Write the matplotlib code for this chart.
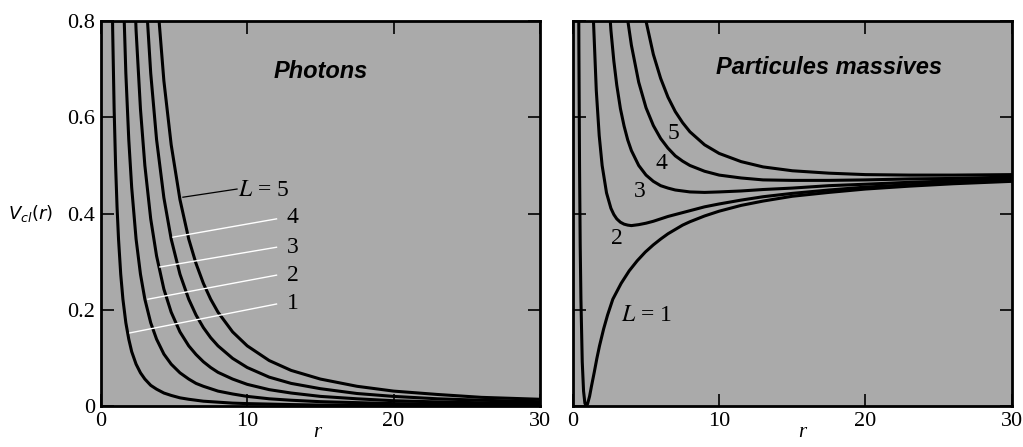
import matplotlib
matplotlib.use("Agg")
import matplotlib.pyplot as plt

plt.rcParams['mathtext.fontset'] = 'stix'

# ---- photons: V(r), one list per L ----
r_ph = [0.7, 0.8, 0.9, 1.0, 1.1, 1.2, 1.35, 1.5, 1.7, 1.9, 2.1, 2.4, 2.7, 3.0, 3.4, 3.8,
        4.3, 4.8, 5.4, 6.0, 6.5, 7.0, 7.5, 8.0, 9.0, 10, 11.5, 13, 15, 17.5, 20, 23, 26, 30]
ph_L1 = [1.02, 0.781, 0.617, 0.5, 0.413, 0.347, 0.274, 0.222, 0.173, 0.139, 0.113, 0.087,
         0.069, 0.056, 0.043, 0.035, 0.027, 0.022, 0.017, 0.014, 0.012, 0.010, 0.009, 0.008,
         0.006, 0.005, 0.004, 0.003, 0.002, 0.002, 0.001, 0.001, 0.001, 0.001]
ph_L2 = [4.08, 3.125, 2.469, 2.0, 1.653, 1.389, 1.097, 0.889, 0.692, 0.554, 0.454, 0.347,
         0.274, 0.222, 0.173, 0.139, 0.108, 0.087, 0.069, 0.056, 0.047, 0.041, 0.036, 0.031,
         0.025, 0.020, 0.015, 0.012, 0.009, 0.007, 0.005, 0.004, 0.003, 0.002]
ph_L3 = [9.18, 7.03, 5.556, 4.5, 3.719, 3.125, 2.469, 2.0, 1.557, 1.247, 1.020, 0.781,
         0.617, 0.5, 0.389, 0.312, 0.243, 0.195, 0.154, 0.125, 0.107, 0.092, 0.080, 0.070,
         0.056, 0.045, 0.034, 0.027, 0.020, 0.015, 0.011, 0.0085, 0.0067, 0.005]
ph_L4 = [16.3, 12.5, 9.88, 8.0, 6.61, 5.56, 4.39, 3.56, 2.77, 2.216, 1.814, 1.389,
         1.097, 0.889, 0.692, 0.554, 0.433, 0.347, 0.274, 0.222, 0.189, 0.163, 0.142, 0.125,
         0.099, 0.080, 0.060, 0.047, 0.036, 0.026, 0.020, 0.015, 0.012, 0.009]
ph_L5 = [25.5, 19.5, 15.4, 12.5, 10.3, 8.68, 6.86, 5.56, 4.33, 3.46, 2.83, 2.17,
         1.715, 1.389, 1.081, 0.866, 0.676, 0.543, 0.429, 0.347, 0.296, 0.255, 0.222, 0.195,
         0.154, 0.125, 0.0945, 0.074, 0.056, 0.041, 0.031, 0.024, 0.018, 0.014]

# ---- massive particles: V(r) ----
r_m1 = [0.23, 0.27, 0.32, 0.36, 0.41, 0.455, 0.5, 0.55, 0.64, 0.73, 0.82, 0.91, 1.0, 1.14,
        1.27, 1.46, 1.64, 1.82, 2.1, 2.37, 2.73, 3.3, 3.85, 4.4, 4.95, 5.5, 6, 6.5, 7, 7.5,
        8, 9, 10, 11.5, 13, 15, 17.5, 20, 23, 26, 30]
m_L1 = [4.5, 2.722, 1.725, 1.125, 0.747, 0.5, 0.335, 0.222, 0.092, 0.031, 0.006, 0.0,
        0.004, 0.02, 0.041, 0.070, 0.099, 0.125, 0.160, 0.189, 0.222, 0.255, 0.281, 0.302,
        0.32, 0.335, 0.347, 0.358, 0.367, 0.376, 0.383, 0.395, 0.405, 0.417, 0.426, 0.436,
        0.444, 0.451, 0.457, 0.462, 0.467]

r_m = [0.25, 0.3, 0.35, 0.4, 0.45, 0.5, 0.55, 0.6, 0.7, 0.8, 0.9, 1.0, 1.1, 1.25, 1.4, 1.6,
       1.8, 2.0, 2.3, 2.6, 2.8, 3.0, 3.25, 3.5, 3.75, 4.0, 4.5, 5, 5.5, 6, 6.5, 7, 7.5, 8, 9,
       10, 11.5, 13, 15, 17.5, 20, 23, 26, 30]
m_L2 = [28.5, 19.39, 13.97, 10.5, 8.15, 6.5, 5.29, 4.39, 3.15, 2.375, 1.858, 1.5, 1.244,
        0.98, 0.806, 0.656, 0.562, 0.5, 0.443, 0.411, 0.398, 0.389, 0.382, 0.378, 0.376,
        0.375, 0.377, 0.38, 0.384, 0.389, 0.394, 0.398, 0.402, 0.406, 0.414, 0.42, 0.428,
        0.435, 0.442, 0.449, 0.455, 0.460, 0.465, 0.469]
m_L3 = [68.5, 47.2, 34.4, 26.1, 20.5, 16.5, 13.56, 11.33, 8.26, 6.28, 4.94, 4.0, 3.31,
        2.58, 2.08, 1.633, 1.333, 1.125, 0.916, 0.781, 0.717, 0.667, 0.618, 0.582, 0.553,
        0.531, 0.5, 0.48, 0.467, 0.458, 0.453, 0.449, 0.447, 0.445, 0.444, 0.445, 0.447,
        0.450, 0.453, 0.458, 0.461, 0.465, 0.468, 0.472]
m_L4 = [124.5, 86.1, 63.0, 48, 37.8, 30.5, 25.1, 21.1, 15.4, 11.75, 9.27, 7.5, 6.2, 4.82,
        3.87, 3.0, 2.413, 2.0, 1.577, 1.299, 1.163, 1.056, 0.950, 0.867, 0.802, 0.75, 0.673,
        0.62, 0.583, 0.556, 0.536, 0.520, 0.509, 0.5, 0.488, 0.48, 0.474, 0.470, 0.469,
        0.469, 0.47, 0.472, 0.473, 0.476]
m_L5 = [196.5, 136.1, 99.7, 76.1, 60.0, 48.5, 40.0, 33.5, 24.6, 18.8, 14.8, 12.0, 9.92,
        7.7, 6.16, 4.76, 3.80, 3.125, 2.428, 1.964, 1.737, 1.556, 1.376, 1.235, 1.122, 1.031,
        0.895, 0.8, 0.731, 0.681, 0.642, 0.612, 0.589, 0.570, 0.543, 0.525, 0.508, 0.497,
        0.489, 0.484, 0.481, 0.480, 0.480, 0.481]

xticks = [0, 10, 20, 30]
xtick_labels = ['0', '10', '20', '30']
yticks = [0, 0.2, 0.4, 0.6, 0.8]
ytick_labels = ['0', '0.2', '0.4', '0.6', '0.8']

bg = '#aaaaaa'
serif = 'Liberation Serif'

fig = plt.figure(figsize=(10.23, 4.47), dpi=100)
ax1 = fig.add_axes([0.0987, 0.0917, 0.429, 0.861])
ax2 = fig.add_axes([0.560, 0.0917, 0.429, 0.861])

for ax in (ax1, ax2):
    ax.set_facecolor(bg)
    ax.set_xlim(0, 30)
    ax.set_ylim(0, 0.8)
    ax.set_xticks(xticks)
    ax.set_yticks(yticks)
    ax.tick_params(direction='in', length=9, width=1.2, top=True, right=True,
                   labelsize=16, pad=4)
    for s in ax.spines.values():
        s.set_linewidth(2)

ax1.set_xticklabels(xtick_labels, fontfamily=serif)
ax1.set_yticklabels(ytick_labels, fontfamily=serif)
ax2.set_xticklabels(xtick_labels, fontfamily=serif)
ax2.set_yticklabels([])

lw = 2.2
for v in (ph_L1, ph_L2, ph_L3, ph_L4, ph_L5):
    ax1.plot(r_ph, v, color='black', lw=lw)

ax2.plot(r_m1, m_L1, color='black', lw=lw)
for v in (m_L2, m_L3, m_L4, m_L5):
    ax2.plot(r_m, v, color='black', lw=lw)

# leader lines and curve labels, left panel
ax1.plot([5.6, 9.3], [0.434, 0.451], color='black', lw=0.9, zorder=4)
ax1.text(9.4, 0.449, r'$L$ = 5', fontsize=17, fontfamily=serif, va='center', ha='left')
leaders = [(4.92, 0.351, 12.0, 0.389, '4', 0.391),
           (4.03, 0.289, 12.0, 0.330, '3', 0.330),
           (3.21, 0.222, 12.0, 0.272, '2', 0.272),
           (1.98, 0.152, 12.0, 0.212, '1', 0.214)]
for x0, y0, x1, y1, lab, ly in leaders:
    ax1.plot([x0, x1], [y0, y1], color='white', lw=1.0, zorder=4)
    ax1.text(12.7, ly, lab, fontsize=17, fontfamily=serif, va='center', ha='left')

ax1.text(15.0, 0.695, 'Photons', fontsize=17, fontfamily='Liberation Sans',
         fontweight='bold', fontstyle='italic', ha='center', va='center')

# labels, right panel
for x, y, lab in [(6.84, 0.567, '5'), (6.08, 0.505, '4'), (4.58, 0.445, '3'),
                  (3.0, 0.349, '2')]:
    ax2.text(x, y, lab, fontsize=17, fontfamily=serif, ha='center', va='center')
ax2.text(5.05, 0.189, r'$L$ = 1', fontsize=17, fontfamily=serif, ha='center', va='center')
ax2.text(17.5, 0.703, 'Particules massives', fontsize=17, fontfamily='Liberation Sans',
         fontweight='bold', fontstyle='italic', ha='center', va='center')

fig.text(0.030, 0.523, r'$V_{cl}(r)$', fontsize=13, ha='center', va='center',
         math_fontfamily='dejavusans')
fig.text(0.310, 0.012, 'r', fontsize=15, fontfamily=serif, fontstyle='italic',
         ha='center', va='bottom')
fig.text(0.784, 0.012, 'r', fontsize=15, fontfamily=serif, fontstyle='italic',
         ha='center', va='bottom')

fig.savefig('out.png', dpi=100)
